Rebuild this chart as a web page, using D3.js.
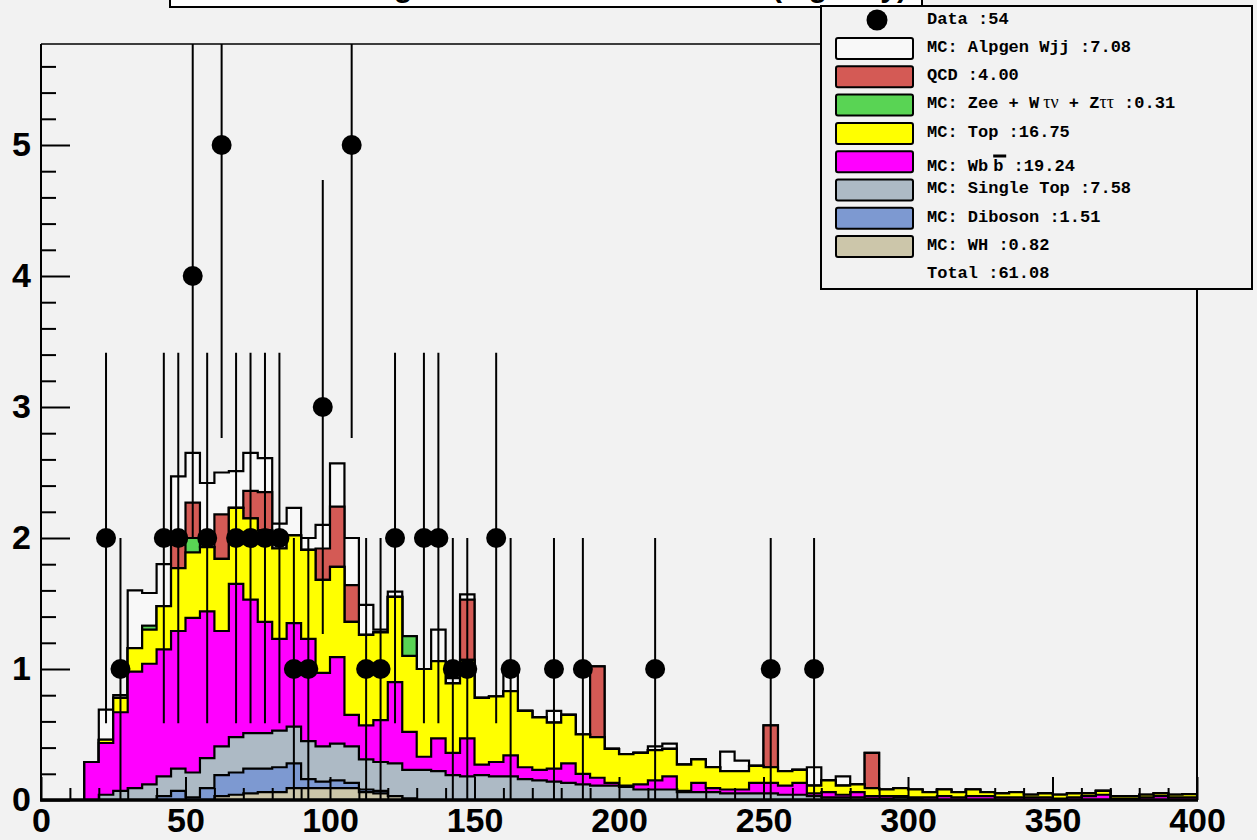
<!DOCTYPE html>
<html><head><meta charset="utf-8">
<script src="https://cdn.jsdelivr.net/npm/d3@7"></script>
<style>
html,body{margin:0;padding:0;background:#f2f2f2;}
svg{display:block;}
</style></head><body>
<svg id="c" width="1257" height="840"></svg>
<script>
// ---------------- data ----------------
const binWidth = 5;           // histogram bin width (x units)
const xTicks = [0, 50, 100, 150, 200, 250, 300, 350, 400];
const yTicks = [0, 1, 2, 3, 4, 5];
const titleText = "Leading Two Jets Invariant Mass (tag only)";

const seriesKeys = ["WH", "Diboson", "SingleTop", "Wbb", "Top", "Zee", "QCD", "Wjj"];

const wh = [
 0,0,0,0,0,0,0,0,0,0,
 0,0,0.03,0.04,0.05,0.06,0.06,0.09,0.09,0.09,
 0.09,0.09,0.06,0.05,0.03,0.01,0,0,0,0,
 0,0,0,0,0,0,0,0,0,0, 0,0,0,0,0,0,0,0,0,0,
 0,0,0,0,0,0,0,0,0,0, 0,0,0,0,0,0,0,0,0,0, 0,0,0,0,0,0,0,0,0,0];
const diboson = [
 0,0,0,0,0,0,0,0,0.03,0.07,
 0.02,0.09,0.16,0.17,0.19,0.18,0.19,0.19,0.07,0.05,
 0.06,0.04,0.02,0.02,0,0,0,0,0,0,
 0,0,0,0,0,0,0,0,0,0, 0,0,0,0,0,0,0,0,0,0,
 0,0,0,0,0,0,0,0,0,0, 0,0,0,0,0,0,0,0,0,0, 0,0,0,0,0,0,0,0,0,0];
const singleTop = [
 0,0,0,0,0.04,0.07,0.09,0.12,0.15,0.17,
 0.19,0.23,0.22,0.27,0.27,0.27,0.28,0.28,0.29,0.27,
 0.28,0.28,0.23,0.22,0.25,0.22,0.23,0.22,0.19,0.18,
 0.19,0.18,0.18,0.16,0.15,0.14,0.13,0.12,0.11,0.11,
 0.10,0.08,0.08,0.08,0.06,0.06,0.06,0.05,0.05,0.05,
 0.05,0.04,0.04,0.03,0.02,0.02,0.02,0.01,0.01,0.02,
 0.01,0,0,0,0,0,0,0,0,0, 0,0,0,0,0,0,0,0,0,0];
const wbb = [
 0,0,0,0.29,0.395,0.60,0.89,0.92,0.97,1.05,
 1.18,1.12,0.88,1.17,1.02,0.85,0.70,0.79,0.78,0.56,
 0.66,0.24,0.26,0.32,0.62,0.29,0.10,0.25,0.17,0.29,
 0.08,0.11,0.16,0.09,0.08,0.10,0.15,0.08,0.06,0.02,
 0.01,0.04,0.07,0.10,0.01,0.07,0.03,0.03,0.03,0.08,
 0.08,0.07,0.09,0.02,0.04,0.02,0.04,0.02,0.02,0.01,
 0.01,0.02,0.03,0.02,0.03,0.03,0.02,0.02,0.02,0.02,
 0.01,0.02,0.03,0.04,0.01,0.01,0.02,0.03,0.02,0.02];
const top_ = [
 0,0,0,0,0.025,0.11,0.18,0.26,0.33,0.48,
 0.50,0.49,0.55,0.58,0.62,0.70,0.69,0.67,0.68,0.71,
 0.69,0.71,0.69,0.67,0.65,0.58,0.67,0.59,0.53,0.60,
 0.51,0.50,0.49,0.43,0.40,0.35,0.37,0.30,0.31,0.26,
 0.24,0.24,0.23,0.21,0.20,0.18,0.16,0.14,0.14,0.13,
 0.12,0.11,0.10,0.06,0.09,0.07,0.06,0.06,0.05,0.06,
 0.06,0.04,0.05,0.04,0.05,0.03,0.03,0.04,0.02,0.03,
 0.03,0.03,0.02,0.03,0.02,0.02,0.02,0.02,0.02,0.025];
const zee = [
 0,0,0,0,0,0,0,0.03,0,0,
 0.11,0,0,0,0,0,0,0,0,0,
 0,0,0,0,0,0.15,0,0,0,0,
 0,0,0,0,0,0,0,0,0,0, 0,0,0,0,0,0,0,0,0,0,
 0,0,0,0,0,0,0,0,0,0, 0,0,0,0,0,0,0,0,0,0, 0,0,0,0,0,0,0,0,0,0];
const qcd = [
 0,0,0,0,0,0,0,0,0,0.18,
 0.27,0,0.34,0,0.21,0.29,0,0,0,0.24,
 0.46,0.28,0,0,0,0,0,0,0,0.46,
 0,0,0,0,0,0,0,0,0.54,0,
 0,0,0,0,0,0,0,0,0,0,
 0.32,0,0,0,0,0,0,0.27,0,0,
 0,0,0,0,0,0,0,0,0,0, 0,0,0,0,0,0,0,0,0,0];
const wjj = [
 0,0,0,0,0.23,0.02,0.44,0.25,0.32,0.52,
 0.38,0.49,0.32,0.28,0.29,0.26,0.19,0.21,0.09,0.18,
 0.33,0.36,0.23,0.02,0.04,0,0,0.24,0.04,0.04,
 0,0,0.14,0,0,0.09,0,0,0,0,
 0,0,0.03,0.04,0,0,0,0.15,0.08,0,
 0,0,0,0.14,0,0.07,0,0,0,0,
 0,0,0,0,0,0,0,0,0,0, 0,0,0,0,0,0,0,0,0,0];
const dataCounts = [
 0,0,0,0,2,1,0,0,2,2,
 4,2,5,2,2,2,2,1,1,3,
 0,5,1,1,2,0,2,2,1,1,
 0,2,1,0,0,1,0,1,0,0,
 0,0,1,0,0,0,0,0,0,0,
 1,0,0,1,0,0,0,0,0,0,
 0,0,0,0,0,0,0,0,0,0, 0,0,0,0,0,0,0,0,0,0];

const legendLabels = {
  Data: "Data :54",
  Wjj: "MC: Alpgen Wjj :7.08",
  QCD: "QCD :4.00",
  Zee: ["MC: Zee + W", "τν", " + Z", "ττ", " :0.31"],
  Top: "MC: Top :16.75",
  Wbb: ["MC: Wb", "b", " :19.24"],
  SingleTop: "MC: Single Top :7.58",
  Diboson: "MC: Diboson :1.51",
  WH: "MC: WH :0.82",
  Total: "Total :61.08"
};

// ---------------- styles ----------------
const BG = "#f2f2f2";
const colors = {
  WH: "#ccc6aa", Diboson: "#7d99d1", SingleTop: "#adbac5", Wbb: "#ff00ff",
  Top: "#ffff00", Zee: "#59d454", QCD: "#d45a55", Wjj: "#f8f8f8"
};
const SANS = "'Liberation Sans', Arial, Helvetica, sans-serif";
const MONO = "'Liberation Mono', 'Courier New', Courier, monospace";
const SERIF = "'Liberation Serif', 'DejaVu Serif', serif";

const svg = d3.select("#c");
svg.append("rect").attr("width", 1257).attr("height", 840).attr("fill", BG);

const x = d3.scaleLinear().domain([0, 400]).range([41, 1197]);
const y = d3.scaleLinear().domain([0, 756 / 131]).range([800, 44]);

// title box (sits mostly above the canvas, as in the reference)
svg.append("rect").attr("x", 170).attr("y", -40).attr("width", 752).attr("height", 47)
  .attr("fill", "#ffffff").attr("stroke", "#000").attr("stroke-width", 2);
svg.append("text").attr("x", 907).attr("y", -3.5).attr("text-anchor", "end")
  .attr("font-family", SANS).attr("font-weight", "bold").attr("font-size", 30)
  .text(titleText);

// clip
svg.append("defs").append("clipPath").attr("id", "clip")
  .append("rect").attr("x", 41).attr("y", 44).attr("width", 1156).attr("height", 756);

// stacked histogram
const series = { WH: wh, Diboson: diboson, SingleTop: singleTop, Wbb: wbb, Top: top_, Zee: zee, QCD: qcd, Wjj: wjj };
const table = dataCounts.map((_, i) => {
  const row = { lo: i * binWidth };
  seriesKeys.forEach(k => row[k] = series[k][i]);
  return row;
});
const stacked = d3.stack().keys(seriesKeys)(table);
const plot = svg.append("g").attr("clip-path", "url(#clip)");
for (let k = stacked.length - 1; k >= 0; k--) {
  const layer = stacked[k];
  let d = `M${x(0)},${y(0)}`;
  layer.forEach((s, i) => {
    const lo = table[i].lo;
    d += `L${x(lo)},${y(s[1])}L${x(lo + binWidth)},${y(s[1])}`;
  });
  d += `L${x(400)},${y(0)}Z`;
  plot.append("path").attr("d", d).attr("fill", colors[seriesKeys[k]])
    .attr("stroke", "#000").attr("stroke-width", 2.2);
}

// data points with sqrt(N) errors
dataCounts.forEach((n, i) => {
  if (n <= 0) return;
  const cx = x(i * binWidth + binWidth / 2), e = Math.sqrt(n);
  plot.append("line").attr("x1", cx).attr("x2", cx)
    .attr("y1", y(n - e)).attr("y2", y(n + e))
    .attr("stroke", "#000").attr("stroke-width", 2);
  plot.append("circle").attr("cx", cx).attr("cy", y(n)).attr("r", 10).attr("fill", "#000");
});

// axes
const yMinor = d3.range(0, 29).map(i => +(i * 0.2).toFixed(1)).filter(v => y(v) >= 44 && Math.abs(v - Math.round(v)) > 1e-6);
const xMinor = d3.range(0, 41).map(i => i * 10).filter(v => v % 50 !== 0);

const axStyle = g => {
  g.select(".domain").remove();
  g.selectAll(".tick line").attr("stroke", "#000").attr("stroke-width", 2);
  g.selectAll("text").attr("font-family", SANS).attr("font-weight", "bold")
    .attr("font-size", 34).attr("fill", "#000");
};
svg.append("g").attr("transform", "translate(41,0)")
  .call(d3.axisLeft(y).tickValues(yMinor).tickSize(-15).tickFormat("")).call(axStyle);
svg.append("g").attr("transform", "translate(41,0)")
  .call(d3.axisLeft(y).tickValues(yTicks).tickSize(-29).tickPadding(10).tickFormat(d3.format("d"))).call(axStyle);
svg.append("g").attr("transform", "translate(0,800)")
  .call(d3.axisBottom(x).tickValues(xMinor).tickSize(-12).tickFormat("")).call(axStyle);
svg.append("g").attr("transform", "translate(0,800)")
  .call(d3.axisBottom(x).tickValues(xTicks).tickSize(-23).tickPadding(8).tickFormat(d3.format("d"))).call(axStyle);

// frame
const frame = svg.append("g").attr("stroke", "#000").attr("fill", "none");
frame.append("line").attr("x1", 41).attr("x2", 1197).attr("y1", 44).attr("y2", 44).attr("stroke-width", 1.5);
frame.append("line").attr("x1", 1197).attr("x2", 1197).attr("y1", 44).attr("y2", 801).attr("stroke-width", 2);
frame.append("line").attr("x1", 41).attr("x2", 41).attr("y1", 44).attr("y2", 801).attr("stroke-width", 2);
frame.append("line").attr("x1", 40).attr("x2", 1198).attr("y1", 800).attr("y2", 800).attr("stroke-width", 3.5);

// legend
const lg = svg.append("g");
lg.append("rect").attr("x", 821).attr("y", 6).attr("width", 431).attr("height", 283)
  .attr("fill", BG).attr("stroke", "#000").attr("stroke-width", 2);
const rows = ["Data", "Wjj", "QCD", "Zee", "Top", "Wbb", "SingleTop", "Diboson", "WH", "Total"];
const textX = 927;
rows.forEach((key, k) => {
  let base = 23.5 + 28.3 * k;
  const boxC = base - 3.3;
  if (key === "Data") {
    lg.append("circle").attr("cx", 877).attr("cy", 20).attr("r", 10.5).attr("fill", "#000");
  } else if (key !== "Total") {
    lg.append("rect").attr("x", 836).attr("y", boxC - 10.5).attr("width", 77).attr("height", 21)
      .attr("rx", 2).attr("fill", colors[key]).attr("stroke", "#000").attr("stroke-width", 2);
  }
  if (key === "Wbb") base += 6;
  const t = lg.append("text").attr("x", textX).attr("y", base)
    .attr("font-family", MONO).attr("font-weight", "bold").attr("font-size", 17).attr("fill", "#000");
  const lab = legendLabels[key];
  if (key === "Zee") {
    t.append("tspan").text(lab[0]);
    t.append("tspan").attr("dx", 4).attr("font-family", SERIF)
      .attr("font-weight", "normal").attr("font-size", 18).text(lab[1]);
    t.append("tspan").text(lab[2]);
    t.append("tspan").attr("font-family", SERIF)
      .attr("font-weight", "normal").attr("font-size", 18).text(lab[3]);
    t.append("tspan").text(lab[4]);
  } else if (key === "Wbb") {
    t.append("tspan").text(lab[0]);
    t.append("tspan").attr("dx", 5).text(lab[1]);
    t.append("tspan").text(lab[2]);
    lg.append("rect").attr("x", textX + 6 * 10.2 + 5).attr("y", base - 16.5).attr("width", 13).attr("height", 3).attr("fill", "#000");
  } else {
    t.text(lab);
  }
});
</script>
</body></html>
